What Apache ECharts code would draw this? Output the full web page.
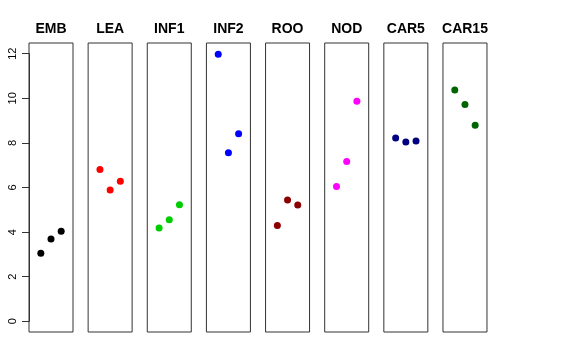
<!DOCTYPE html>
<html>
<head>
<meta charset="utf-8">
<script src="https://cdn.jsdelivr.net/npm/echarts@6/dist/echarts.min.js"></script>
<style>html,body{margin:0;padding:0;background:#fff}#c{width:576px;height:360px}</style>
</head>
<body>
<div id="c"></div>
<script>
var categories = ['EMB', 'LEA', 'INF1', 'INF2', 'ROO', 'NOD', 'CAR5', 'CAR15'];
var xPositions = [1, 2, 3];
var EMB = [3.05, 3.69, 4.04];
var LEA = [6.81, 5.89, 6.28];
var INF1 = [4.18, 4.55, 5.23];
var INF2 = [11.97, 7.56, 8.41];
var ROO = [4.30, 5.44, 5.22];
var NOD = [6.04, 7.17, 9.87];
var CAR5 = [8.22, 8.04, 8.08];
var CAR15 = [10.37, 9.72, 8.79];
var yTickMin = 0, yTickMax = 12, yTickStep = 2;
var colors = ['#000000', '#FF0000', '#00CD00', '#0000FF', '#8B0000', '#FF00FF', '#000080', '#006400'];
var groups = [EMB, LEA, INF1, INF2, ROO, NOD, CAR5, CAR15];

(function () {
var chart = echarts.init(document.getElementById('c'), null, {renderer: 'canvas'});
var grids = [], xAxes = [], yAxes = [], series = [], titles = [];
var left0 = 29, step = 59.14, w = 44, gTop = 43, h = 289;
var yMin = -0.48, yMax = 12.48;
var unit = h / (yMax - yMin);
var font = 'Liberation Sans, Arial, Helvetica, sans-serif';
categories.forEach(function (name, i) {
  var l = left0 + i * step;
  grids.push({left: l, top: gTop, width: w, height: h, show: true, borderColor: '#333', borderWidth: 1});
  xAxes.push({gridIndex: i, type: 'value', min: -0.16, max: 4.16, show: false});
  yAxes.push({gridIndex: i, type: 'value', min: yMin, max: yMax, show: false});
  titles.push({
    text: name, left: l + w / 2, top: 22, textAlign: 'center', padding: 0,
    textStyle: {fontSize: 14, fontWeight: 'bold', color: '#000', fontFamily: font}
  });
  series.push({
    type: 'scatter', xAxisIndex: i, yAxisIndex: i, symbol: 'circle', symbolSize: 7,
    itemStyle: {color: colors[i], opacity: 1},
    data: xPositions.map(function (x, k) { return [x, groups[i][k]]; })
  });
});
var ai = categories.length;
grids.push({left: left0, top: gTop + (yMax - yTickMax) * unit, width: w, height: (yTickMax - yTickMin) * unit, show: false});
xAxes.push({gridIndex: ai, type: 'value', min: 0, max: 1, show: false});
yAxes.push({
  gridIndex: ai, type: 'value', min: yTickMin, max: yTickMax, interval: yTickStep,
  splitLine: {show: false},
  axisLine: {show: true, lineStyle: {color: '#333'}},
  axisTick: {show: true, length: 7, lineStyle: {color: '#333'}},
  axisLabel: {show: true, rotate: 90, margin: 11, fontSize: 11, color: '#000', fontFamily: font}
});
chart.setOption({
  animation: false,
  title: titles,
  grid: grids,
  xAxis: xAxes,
  yAxis: yAxes,
  series: series
});
})();
</script>
</body>
</html>
